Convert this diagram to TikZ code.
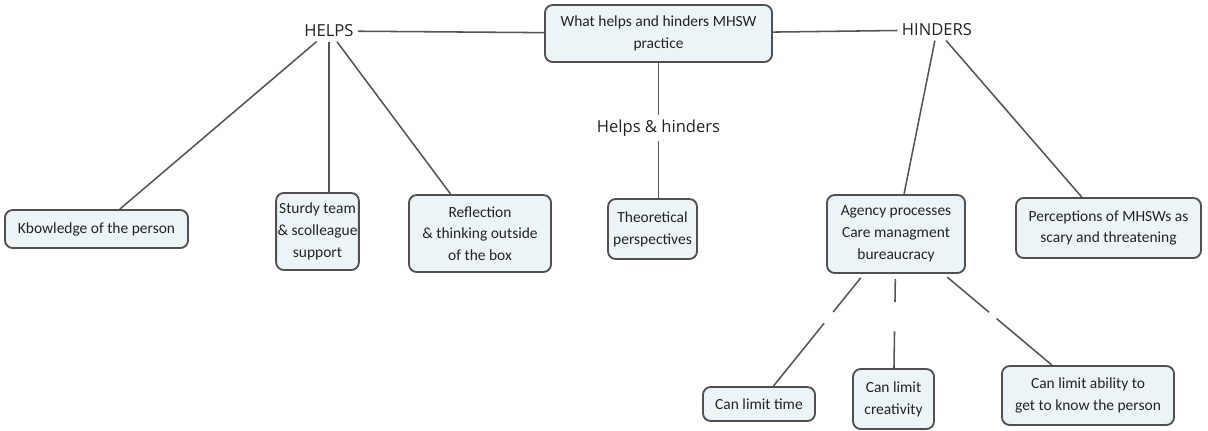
\documentclass[tikz,border=0pt]{standalone}
\usepackage{fontspec}
\setmainfont{Carlito}
\newfontfamily\labelfont{Open Sans}
\usepackage{tikz}
\definecolor{boxfill}{RGB}{237,244,247}
\definecolor{boxline}{RGB}{80,80,80}
\definecolor{linkgray}{RGB}{85,85,85}
\definecolor{textgray}{RGB}{35,35,35}

\begin{document}
\begin{tikzpicture}[x=0.025cm,y=-0.025cm,
  box/.style={draw=boxline,fill=boxfill,line width=1.3pt,rounded corners=5.5pt,
    align=center,inner sep=1pt,text=textgray,font=\fontsize{11}{15.5}\selectfont},
  lbl/.style={inner sep=3pt,text=textgray,font=\labelfont\fontsize{11.8}{14}\selectfont},
  link/.style={draw=linkgray,line width=1.1pt}]

\useasboundingbox (0,0) rectangle (1208,430);

\node[box,minimum width=5.675cm,minimum height=1.425cm] (root) at (658.5,33.5) {What helps and hinders MHSW\\practice};
\node[lbl] (helps) at (329,31) {HELPS};
\node[lbl] (hinders) at (937,30) {HINDERS};
\node[lbl] (hh) at (658.5,128) {Helps \& hinders};

\node[box,minimum width=4.575cm,minimum height=0.95cm] (kbow) at (96.5,229) {Kbowledge of the person};
\node[box,minimum width=2.025cm,minimum height=1.925cm] (sturdy) at (317.5,231.5) {Sturdy team\\\& scolleague\\support};
\node[box,minimum width=3.55cm,minimum height=1.925cm] (refl) at (480,233.5) {Reflection\\\& thinking outside\\of the box};
\node[box,minimum width=2.225cm,minimum height=1.5cm] (theo) at (652.5,229) {Theoretical\\perspectives};
\node[box,minimum width=3.45cm,minimum height=1.95cm] (agency) at (896,234) {Agency processes\\Care managment\\bureaucracy};
\node[box,minimum width=4.625cm,minimum height=1.5cm] (perc) at (1108.5,228) {Perceptions of MHSWs as\\scary and threatening};

\node[box,minimum width=2.8cm,minimum height=0.85cm] (time) at (759,404) {Can limit time};
\node[box,minimum width=2.025cm,minimum height=1.5cm] (creat) at (893.5,399) {Can limit\\creativity};
\node[box,minimum width=4.3cm,minimum height=1.475cm] (ability) at (1088,395.5) {Can limit ability to\\get to know the person};

\draw[link] (helps) -- (root);
\draw[link] (root) -- (hinders);
\draw[link] (helps) -- (kbow);
\draw[link] (helps) -- (helps |- sturdy.north);
\draw[link] (helps) -- (refl);
\draw[link] (root) -- (hh);
\draw[link] (hh) -- (hh |- theo.north);
\draw[link] (hinders) -- (agency);
\draw[link] (hinders) -- (perc);

\path (agency) -- (time) coordinate[pos=0.34] (ga1) coordinate[pos=0.44] (ga2);
\path (agency) -- (creat) coordinate[pos=0.30] (gb1) coordinate[pos=0.61] (gb2);
\path (agency) -- (ability) coordinate[pos=0.42] (gc1) coordinate[pos=0.49] (gc2);
\draw[link,shorten <=3.5pt] (agency) -- (ga1);
\draw[link] (ga2) -- (time);
\draw[link,shorten <=3.5pt] (agency) -- (gb1);
\draw[link] (gb2) -- (creat);
\draw[link,shorten <=3.5pt] (agency) -- (gc1);
\draw[link] (gc2) -- (ability);

\end{tikzpicture}
\end{document}
